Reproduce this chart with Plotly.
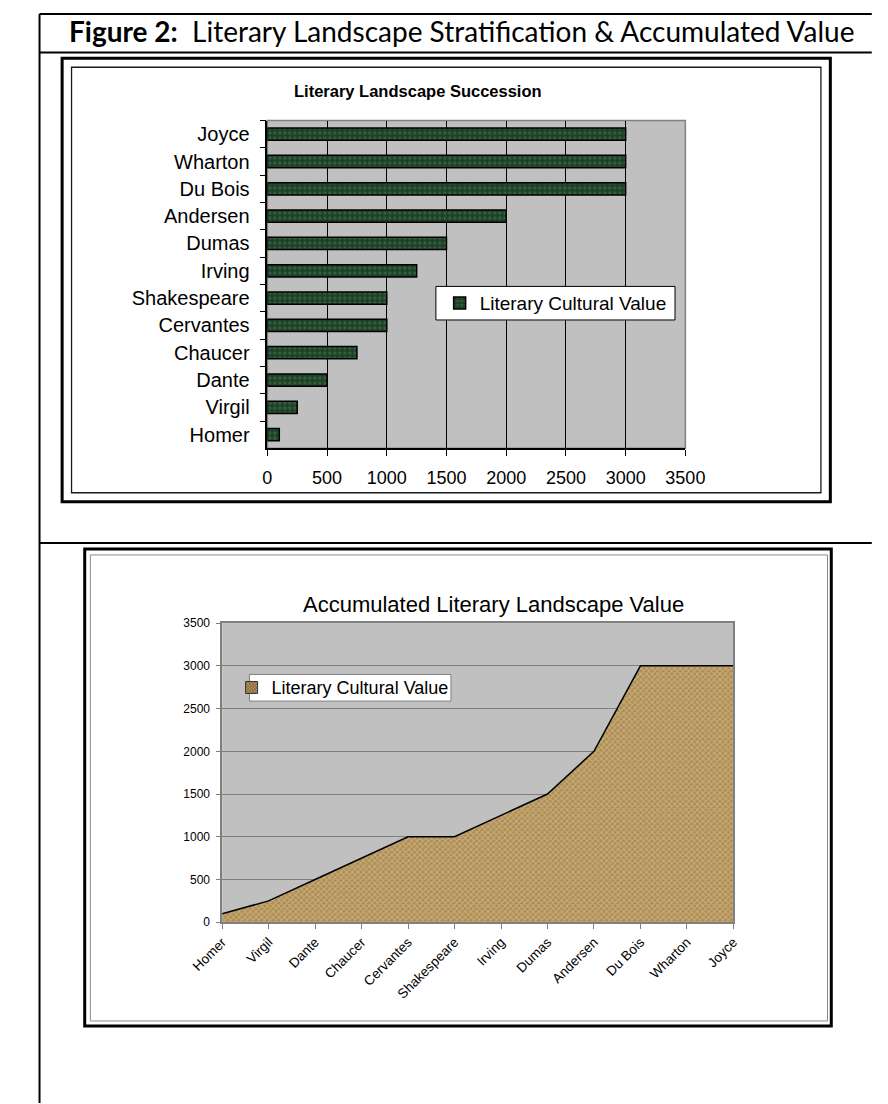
import plotly.graph_objects as go

# ---------------- data ----------------
authors = ["Homer", "Virgil", "Dante", "Chaucer", "Cervantes", "Shakespeare",
           "Irving", "Dumas", "Andersen", "Du Bois", "Wharton", "Joyce"]
cultural_value = [100, 250, 500, 750, 1000, 1000, 1250, 1500, 2000, 3000, 3000, 3000]
value_ticks = [0, 500, 1000, 1500, 2000, 2500, 3000, 3500]
series_name = "Literary Cultural Value"
fig_title_bold = "Figure 2:"
fig_title_rest = "Literary Landscape Stratification & Accumulated Value"
top_title = "Literary Landscape Succession"
bottom_title = "Accumulated Literary Landscape Value"

W, H = 888, 1104
def X(px):
    return px / W
def Y(py):
    return 1 - py / H

ARIAL = "Liberation Sans, Arial, sans-serif"

fig = go.Figure()

# ---------------- top chart: horizontal bars ----------------
fig.add_trace(go.Bar(
    x=cultural_value, y=authors, orientation="h",
    name=series_name,
    marker=dict(color="#24492c", line=dict(color="black", width=1.5),
                pattern=dict(shape=".", fgcolor="#4a8258", bgcolor="#1d3f26",
                             size=5, solidity=0.35)),
    width=0.45,
    xaxis="x", yaxis="y", legend="legend",
))

# ---------------- bottom chart: area ----------------
fig.add_trace(go.Scatter(
    x=authors, y=cultural_value, mode="lines",
    fill="tozeroy",
    line=dict(color="black", width=1.5),
    fillcolor="#c4a46c",
    fillpattern=dict(shape="x", bgcolor="#ad8c55", fgcolor="#e6d2a0",
                     size=4, solidity=0.45),
    showlegend=False,
    xaxis="x2", yaxis="y2",
))
# legend entry (square swatch) for the area series
fig.add_trace(go.Bar(
    x=[None], y=[None], name=series_name,
    marker=dict(color="#c4a46c", line=dict(color="#333333", width=1),
                pattern=dict(shape="x", fgcolor="#e6d2a0", bgcolor="#8e6e3c",
                             size=3, solidity=0.4)),
    xaxis="x2", yaxis="y2", legend="legend2",
))

# ---------------- shapes: frame & boxes ----------------
shapes = []
# outer document frame
shapes.append(dict(type="line", xref="paper", yref="paper", x0=X(8), x1=X(8), y0=Y(7), y1=Y(1110),
                   line=dict(color="black", width=2)))
for yy in (7, 46, 543):
    shapes.append(dict(type="line", xref="paper", yref="paper", x0=X(8), x1=X(892), y0=Y(yy), y1=Y(yy),
                       line=dict(color="black", width=2)))
# top chart box
shapes.append(dict(type="rect", xref="paper", yref="paper", x0=X(32), x1=X(848), y0=Y(52), y1=Y(501),
                   line=dict(color="black", width=3), layer="below"))
shapes.append(dict(type="rect", xref="paper", yref="paper", x0=X(42), x1=X(838), y0=Y(61), y1=Y(492),
                   line=dict(color="#1a1a1a", width=1.3), layer="below"))
# bottom chart box
shapes.append(dict(type="rect", xref="paper", yref="paper", x0=X(56), x1=X(849), y0=Y(549), y1=Y(1032),
                   line=dict(color="black", width=3), layer="below"))
shapes.append(dict(type="rect", xref="paper", yref="paper", x0=X(62), x1=X(845), y0=Y(555), y1=Y(1027),
                   line=dict(color="#8a8a8a", width=1), layer="below"))
# plot area border (top chart)
shapes.append(dict(type="rect", xref="paper", yref="paper", x0=X(250), x1=X(694), y0=Y(447), y1=Y(115),
                   line=dict(color="#808080", width=1.5), layer="below"))
# top legend box
shapes.append(dict(type="rect", xref="paper", yref="paper", x0=X(429), x1=X(683), y0=Y(317), y1=Y(283),
                   line=dict(color="black", width=1), fillcolor="white", layer="above"))
# bottom legend box
shapes.append(dict(type="rect", xref="paper", yref="paper", x0=X(231), x1=X(445), y0=Y(703), y1=Y(676),
                   line=dict(color="#808080", width=1), fillcolor="white", layer="above"))

# ---------------- annotations ----------------
annotations = [
    dict(text=f"<b>{fig_title_bold}</b>\u00a0 {fig_title_rest}", xref="paper", yref="paper",
         x=X(37), y=Y(24), xanchor="left", yanchor="middle", showarrow=False,
         font=dict(family="Lato, Carlito, sans-serif", size=28, color="black")),
    dict(text=f"<b>{top_title}</b>", xref="paper", yref="paper",
         x=X(410), y=Y(85), xanchor="center", yanchor="middle", showarrow=False,
         font=dict(family=ARIAL, size=16.5, color="black")),
    dict(text=bottom_title, xref="paper", yref="paper",
         x=X(490), y=Y(605), xanchor="center", yanchor="middle", showarrow=False,
         font=dict(family=ARIAL, size=22, color="black")),
]

fig.update_layout(
    width=W, height=H,
    margin=dict(l=0, r=0, t=0, b=0),
    paper_bgcolor="white",
    plot_bgcolor="#c0c0c0",
    showlegend=True,
    shapes=shapes,
    annotations=annotations,
    font=dict(family=ARIAL, color="black"),
    xaxis=dict(domain=[X(250), X(694)], anchor="y", range=[0, 3500],
               tickvals=value_ticks, ticks="outside", ticklen=6, tickcolor="black",
               showgrid=True, gridcolor="black", gridwidth=1.3,
               showline=True, linecolor="black", linewidth=1.5, zeroline=False,
               tickfont=dict(size=18, family=ARIAL), ticklabelstandoff=6),
    yaxis=dict(domain=[Y(447), Y(115)], anchor="x", type="category",
               categoryorder="array", categoryarray=authors, range=[-0.5, 11.5],
               ticks="outside", tickson="boundaries", ticklen=6, tickcolor="black",
               showgrid=False, showline=True, linecolor="black", linewidth=1.5,
               tickfont=dict(size=20, family=ARIAL), ticklabelstandoff=12),
    xaxis2=dict(domain=[X(202), X(745)], anchor="y2", type="category",
                categoryorder="array", categoryarray=authors, range=[0, 11],
                ticks="outside", ticklen=5, tickcolor="#808080", tickangle=-45,
                showgrid=False, showline=True, linecolor="#808080", linewidth=1.5,
                mirror=True, tickfont=dict(size=13.5, family=ARIAL)),
    yaxis2=dict(domain=[Y(927), Y(624)], anchor="x2", range=[0, 3500],
                tickvals=value_ticks, ticks="outside", ticklen=4, tickcolor="#808080",
                showgrid=True, gridcolor="#808080", gridwidth=1,
                showline=True, linecolor="#808080", linewidth=1.5, mirror=True,
                zeroline=False, tickfont=dict(size=12, family=ARIAL), ticklabelstandoff=4),
    legend=dict(x=X(433), y=Y(300), xanchor="left", yanchor="middle",
                bgcolor="rgba(0,0,0,0)", borderwidth=0,
                font=dict(size=19, family=ARIAL), itemwidth=30),
    legend2=dict(x=X(212), y=Y(689.5), xanchor="left", yanchor="middle",
                 bgcolor="rgba(0,0,0,0)", borderwidth=0,
                 font=dict(size=18, family=ARIAL), itemwidth=30),
)

fig.write_html("out.html")
